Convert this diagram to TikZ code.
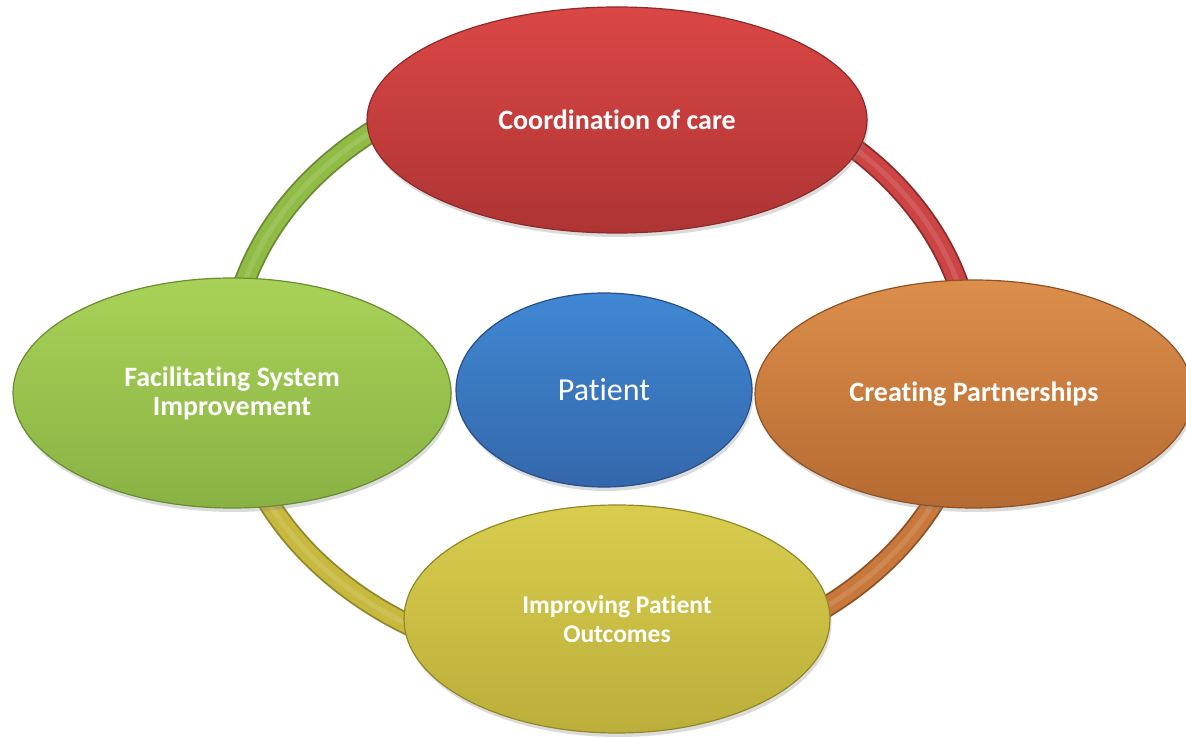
\documentclass[tikz,border=0pt]{standalone}
\usepackage{fontspec}
\setmainfont{Carlito}[Ligatures={NoCommon}]
\usetikzlibrary{shapes.geometric,shadows,calc}
\definecolor{redT}{HTML}{DA4745}\definecolor{redB}{HTML}{AE3434}\definecolor{redE}{HTML}{8E2A2A}
\definecolor{oraT}{HTML}{DC8E4B}\definecolor{oraB}{HTML}{B56A31}\definecolor{oraE}{HTML}{8F5226}
\definecolor{yelT}{HTML}{D8CD4E}\definecolor{yelB}{HTML}{BBAE3A}\definecolor{yelE}{HTML}{928828}
\definecolor{grnT}{HTML}{A8D257}\definecolor{grnB}{HTML}{89B244}\definecolor{grnE}{HTML}{6A8C32}
\definecolor{bluT}{HTML}{4088D4}\definecolor{bluB}{HTML}{3467AB}\definecolor{bluE}{HTML}{27508A}
\definecolor{redL}{HTML}{CC4444}\definecolor{oraL}{HTML}{C8783A}\definecolor{yelL}{HTML}{C7B93E}\definecolor{grnL}{HTML}{90BC45}
\tikzset{
  blob/.style n args={4}{ellipse, inner sep=0pt, minimum width=#1, minimum height=#2,
    top color=#3T, bottom color=#3B, draw=#3E, line width=1.2pt, text=white, align=center,
    font=\fontsize{#4}{29}\selectfont\bfseries,
    drop shadow={opacity=0.28, shadow xshift=1.5pt, shadow yshift=-4pt}},
  bandshadow/.style={line width=22pt, draw=black, opacity=0.12},
  band/.style={line width=1.8pt, draw=#1E, double=#1L, double distance=18pt},
  bandhi/.style={line width=5pt, draw=white, opacity=0.12},
}
\begin{document}
\begin{tikzpicture}[x=1pt,y=1pt]
\useasboundingbox (0,0) rectangle (1186,737);
\fill[white] (0,0) rectangle (1186,737);
\coordinate (ring) at (601,369);
\coordinate (rL) at (229,369);
\coordinate (rT) at (601,669);
\coordinate (rR) at (973,369);
\coordinate (rB) at (601,69);
% ring shadow
\begin{scope}[shift={(2,-3)}]
\draw[bandshadow] (rL) arc[start angle=180, end angle=-180, x radius=372, y radius=300];
\end{scope}
% connectors
\draw[band=grn] (rL) arc[start angle=180, end angle=90, x radius=372, y radius=300];
\draw[band=red] (rT) arc[start angle=90, end angle=0, x radius=372, y radius=300];
\draw[band=ora] (rR) arc[start angle=0, end angle=-90, x radius=372, y radius=300];
\draw[band=yel] (rB) arc[start angle=-90, end angle=-180, x radius=372, y radius=300];
\draw[bandhi] (rL) arc[start angle=180, end angle=-180, x radius=372, y radius=300];
% nodes
\node[blob={500pt}{226pt}{red}{28}] (care) at (617,617) {Coordination of care};
\node[blob={438pt}{228pt}{ora}{28}] (part) at (974,343) {Creating Partnerships};
\node[blob={426pt}{228pt}{yel}{25.5}, font=\fontsize{25.5}{28.5}\selectfont\bfseries] (outc) at (617,118) {Improving Patient\\Outcomes};
\node[blob={438pt}{230pt}{grn}{28}] (sys) at (232,344) {Facilitating System\\Improvement};
\node[blob={296pt}{194pt}{blu}{28}, font=\fontsize{32}{32}\selectfont] (pat) at (604,347) {Patient};
\end{tikzpicture}
\end{document}
